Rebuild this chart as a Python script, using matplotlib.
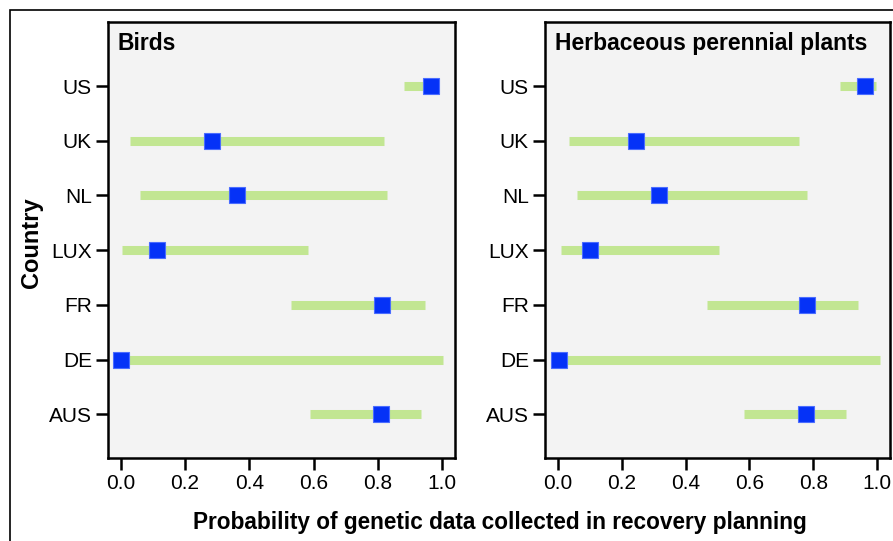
import matplotlib
matplotlib.use("Agg")
import matplotlib.pyplot as plt
from matplotlib.patches import Rectangle

plt.rcParams['font.family'] = ['Liberation Sans', 'DejaVu Sans']

countries = ["AUS", "DE", "FR", "LUX", "NL", "UK", "US"]

birds_mean = [0.81, 0.001, 0.8125, 0.111, 0.36, 0.284, 0.966]
birds_low = [0.5875, 0.0, 0.53, 0.004, 0.06, 0.028, 0.88]
birds_high = [0.934, 1.004, 0.947, 0.582, 0.827, 0.82, 0.99]

plants_mean = [0.776, 0.005, 0.78, 0.10, 0.317, 0.245, 0.963]
plants_low = [0.582, 0.0, 0.468, 0.01, 0.059, 0.034, 0.885]
plants_high = [0.902, 1.01, 0.94, 0.505, 0.78, 0.754, 0.995]

xticks = [0.0, 0.2, 0.4, 0.6, 0.8, 1.0]

W, H = 893, 541
fig = plt.figure(figsize=(W / 100, H / 100), dpi=100)

fig.patches.append(Rectangle((10 / W, -0.05), 1.2, 1 - 10 / H + 0.05,
                             transform=fig.transFigure, fill=False,
                             edgecolor='black', linewidth=1.2))

panels = [
    ("Birds", birds_mean, birds_low, birds_high, [108 / W, 1 - 458 / H, 347 / W, 436 / H]),
    ("Herbaceous perennial plants", plants_mean, plants_low, plants_high,
     [545 / W, 1 - 458 / H, 345 / W, 436 / H]),
]

green = '#c2e692'
blue = '#0532f7'

for title, mean, low, high, rect in panels:
    ax = fig.add_axes(rect)
    ax.set_facecolor('#f3f3f3')
    ypos = list(range(len(countries)))
    ax.hlines(ypos, low, high, color=green, linewidth=6.5, zorder=2)
    ax.plot(mean, ypos, linestyle='none', marker='s', markersize=11.5,
            markerfacecolor=blue, markeredgecolor='#4a6cff', markeredgewidth=0.8, zorder=3)
    ax.set_xlim(-0.04, 1.04)
    ax.set_ylim(-0.8, 7.17)
    ax.set_yticks(ypos)
    ax.set_yticklabels(countries)
    ax.set_xticks(xticks)
    ax.set_xticklabels([f"{t:.1f}" for t in xticks])
    for s in ax.spines.values():
        s.set_linewidth(1.8)
    ax.tick_params(direction='out', length=8.6, width=1.8, labelsize=15, pad=3, color='black')
    ax.text(0.028, 0.977, title, transform=ax.transAxes, ha='left', va='top',
            fontsize=16.5, fontweight='bold')

fig.text(500 / W, 1 - 523 / H, "Probability of genetic data collected in recovery planning",
         ha='center', va='center', fontsize=16.3, fontweight='bold')
fig.text(31 / W, 1 - 243 / H, "Country", rotation=90, ha='center', va='center',
         fontsize=17, fontweight='bold')

fig.savefig("out.png", dpi=100)
